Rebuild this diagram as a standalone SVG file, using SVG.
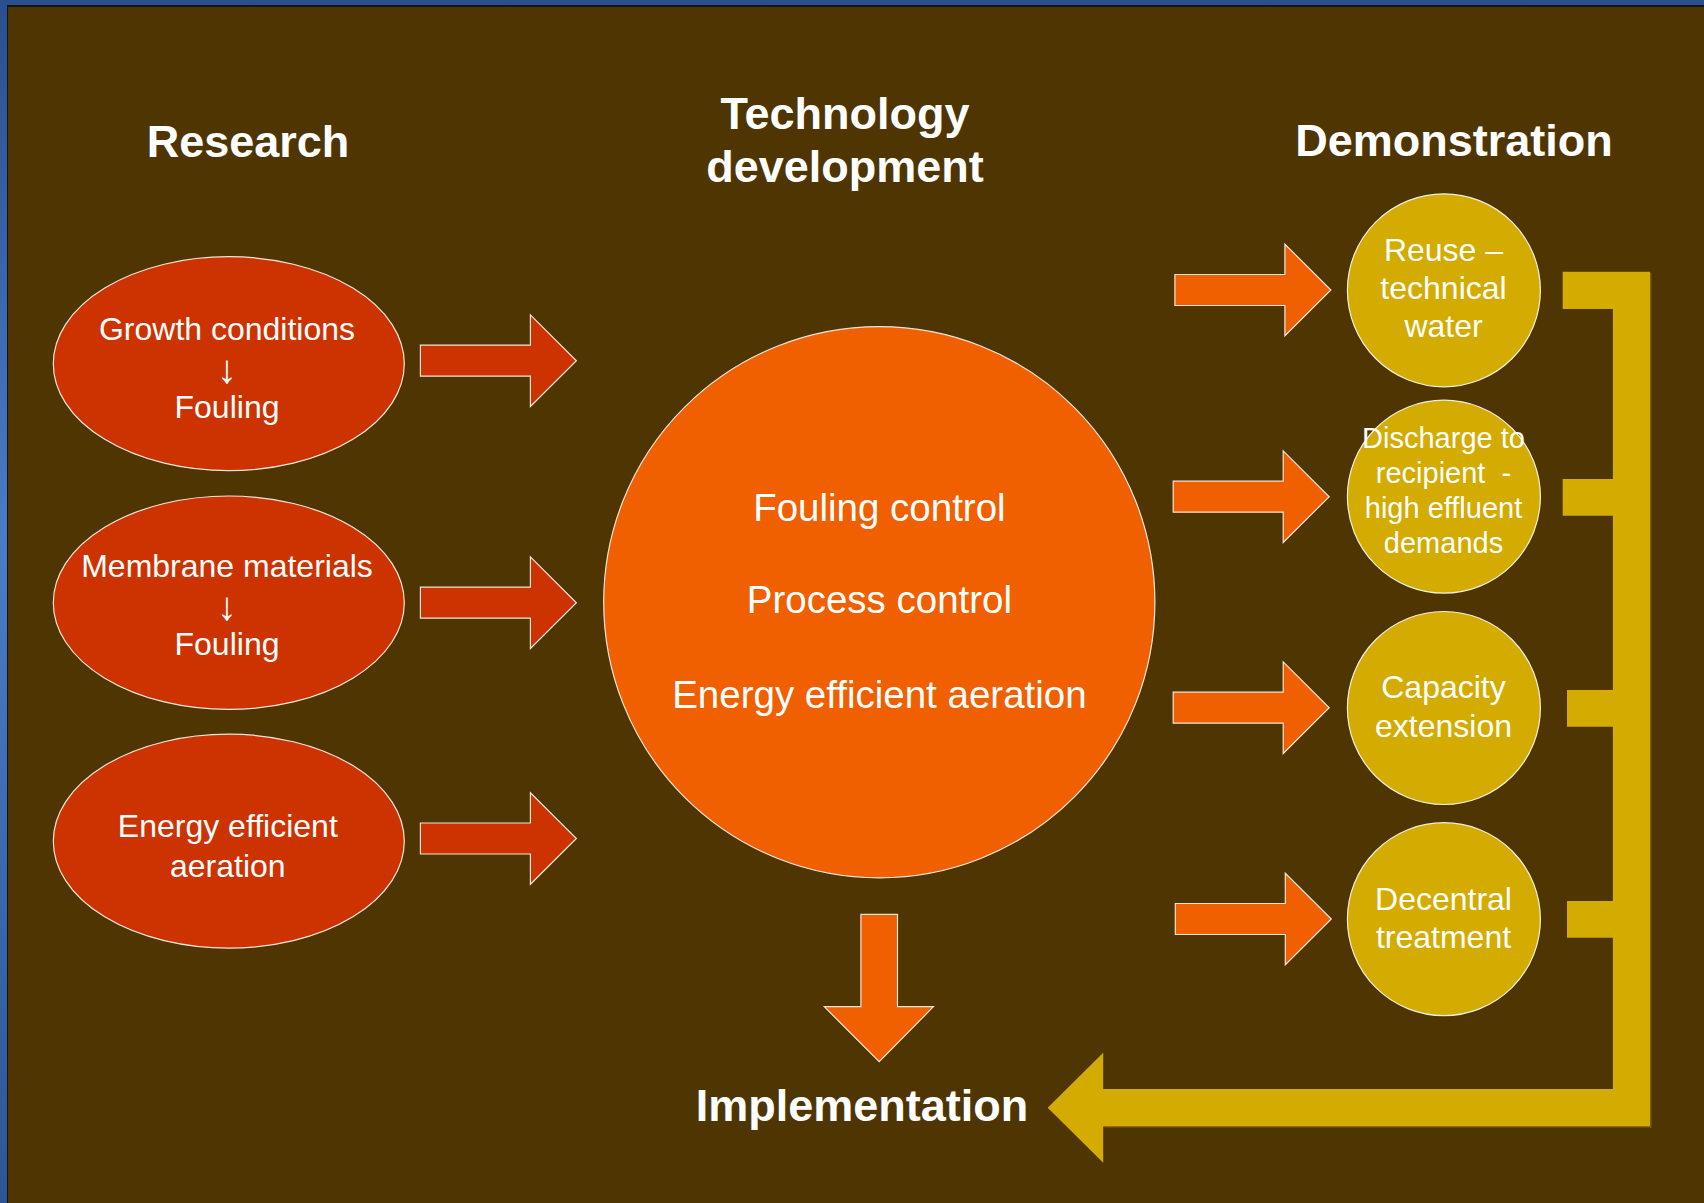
<svg xmlns="http://www.w3.org/2000/svg" width="1704" height="1203" viewBox="0 0 1704 1203">
<defs>
<linearGradient id="blueEdge" x1="0" y1="0" x2="0" y2="1">
<stop offset="0" stop-color="#2a4f8f"/>
<stop offset="0.45" stop-color="#4a7cc8"/>
<stop offset="1" stop-color="#2c5696"/>
</linearGradient>
<path id="rarrow" d="M-156,-15.5 L-46,-15.5 L-46,-45.8 L0,0 L-46,45.8 L-46,15.5 L-156,15.5 Z"/>
</defs>
<style>
.txt{font-family:"Liberation Sans",Arial,sans-serif;fill:#ffffff;text-anchor:middle}
.head{font-size:45px;font-weight:bold}
.red{fill:#cc3300;stroke:#f2e6dc;stroke-width:1.2}
.orange{fill:#f06000;stroke:#f2e6dc;stroke-width:1.2}
.gold{fill:#d4ab00;stroke:#f2efe0;stroke-width:1.2}
.goldbar{fill:#d4ab00}
.t32{font-size:32px}
.t29{font-size:29px}
.t38{font-size:38.5px}
.arr{font-size:40px}
</style>
<rect x="0" y="0" width="1704" height="1203" fill="url(#blueEdge)"/>
<rect x="7" y="5" width="1697" height="1198" fill="#151515"/>
<rect x="8" y="7" width="1696" height="1196" fill="#4e3501"/>

<g id="headings">
<text class="txt head" x="248" y="157">Research</text>
<text class="txt head" x="845" y="129">Technology</text>
<text class="txt head" x="845" y="182">development</text>
<text class="txt head" x="1454" y="156">Demonstration</text>
</g>

<g id="research-growth">
<ellipse class="red" cx="228.8" cy="363.7" rx="175.5" ry="107"/>
<text class="txt t32" x="227" y="340">Growth conditions</text>
<text class="txt arr" x="227" y="383">↓</text>
<text class="txt t32" x="227" y="418">Fouling</text>
</g>
<g id="research-membrane">
<ellipse class="red" cx="228.8" cy="602.7" rx="175.5" ry="106.7"/>
<text class="txt t32" x="227" y="577.3">Membrane materials</text>
<text class="txt arr" x="227" y="620">↓</text>
<text class="txt t32" x="227" y="655">Fouling</text>
</g>
<g id="research-energy">
<ellipse class="red" cx="228.8" cy="841.2" rx="175.5" ry="107"/>
<text class="txt t32" x="227.8" y="837.3">Energy efficient</text>
<text class="txt t32" x="227.8" y="876.7">aeration</text>
</g>

<g id="technology">
<circle class="orange" cx="879.3" cy="602.2" r="275.6"/>
<text class="txt t38" x="879.4" y="520.8">Fouling control</text>
<text class="txt t38" x="879.4" y="613.3">Process control</text>
<text class="txt t38" x="879.4" y="707.6">Energy efficient aeration</text>
</g>

<g id="demo-reuse">
<circle class="gold" cx="1443.9" cy="290.3" r="96.5"/>
<text class="txt t32" x="1443.5" y="261">Reuse –</text>
<text class="txt t32" x="1443.5" y="299.3">technical</text>
<text class="txt t32" x="1443.5" y="337.3">water</text>
</g>
<g id="demo-discharge">
<circle class="gold" cx="1443.9" cy="496.7" r="96.5"/>
<text class="txt t29" x="1443.5" y="448.3">Discharge to</text>
<text class="txt t29" x="1443.5" y="483.3" xml:space="preserve">recipient  -</text>
<text class="txt t29" x="1443.5" y="518.3">high effluent</text>
<text class="txt t29" x="1443.5" y="552.7">demands</text>
</g>
<g id="demo-capacity">
<circle class="gold" cx="1443.9" cy="708" r="96.5"/>
<text class="txt t32" x="1443.5" y="698.3">Capacity</text>
<text class="txt t32" x="1443.5" y="736.7">extension</text>
</g>
<g id="demo-decentral">
<circle class="gold" cx="1443.9" cy="919.2" r="96.5"/>
<text class="txt t32" x="1443.5" y="910">Decentral</text>
<text class="txt t32" x="1443.5" y="948.3">treatment</text>
</g>

<g id="implementation">
<text class="txt" x="862" y="1121" font-size="45" font-weight="bold">Implementation</text>
</g>

<g id="connectors">
<use href="#rarrow" class="red" transform="translate(576.4,360.7)"/>
<use href="#rarrow" class="red" transform="translate(576.4,602.7)"/>
<use href="#rarrow" class="red" transform="translate(576.4,838.5)"/>
<use href="#rarrow" class="orange" transform="translate(1330.9,290)"/>
<use href="#rarrow" class="orange" transform="translate(1329.2,496.7)"/>
<use href="#rarrow" class="orange" transform="translate(1329.2,707.7)"/>
<use href="#rarrow" class="orange" transform="translate(1331.3,919)"/>
<polygon class="orange" points="860.9,914.3 897.5,914.3 897.5,1006.7 933.4,1006.7 879.2,1061.7 824.3,1006.7 860.9,1006.7"/>
<path fill="#7a5c00" d="M1651.5,273 V1128 H1104.5 V1127.5 H1650 V273 Z"/>
<path class="goldbar" d="M1562.7,271.7 H1650 V1126.5 H1103.2 V1162.7 L1047.7,1107.7 L1103.2,1052.7 V1089 H1612.9 V937.7 H1567 V901 H1612.9 V726.7 H1567 V690 H1612.9 V515.7 H1562.7 V479 H1612.9 V309 H1562.7 Z"/>
</g>
</svg>
